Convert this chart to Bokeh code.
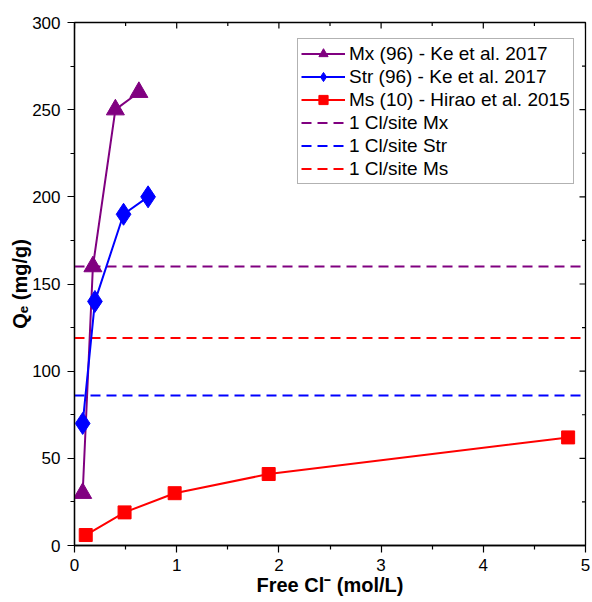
import math
from bokeh.plotting import figure
from bokeh.models import Range1d, FixedTicker, Legend
from bokeh.embed import file_html
from bokeh.resources import INLINE

# Data
mx_x = [0.08, 0.18, 0.40, 0.63]
mx_y = [30, 160, 250, 260]
str_x = [0.08, 0.20, 0.48, 0.72]
str_y = [70, 140, 190, 200]
ms_x = [0.11, 0.49, 0.98, 1.90, 4.83]
ms_y = [6, 19, 30, 41, 62]
site_mx = 160
site_str = 86
site_ms = 119

x_lim = [0, 5]
y_lim = [0, 300]
x_major = [0, 1, 2, 3, 4, 5]
x_minor = [0.5, 1.5, 2.5, 3.5, 4.5]
y_major = [0, 50, 100, 150, 200, 250, 300]
y_minor = [25, 75, 125, 175, 225, 275]

PURPLE = "#800080"
BLUE = "#0000ff"
RED = "#ff0000"
FONT = "Liberation Sans"

p = figure(width=592, height=602, output_backend="svg", toolbar_location=None,
           x_range=Range1d(*x_lim), y_range=Range1d(*y_lim),
           min_border_left=74, min_border_top=22, min_border_right=7, min_border_bottom=57)
p.xgrid.visible = False
p.ygrid.visible = False
p.outline_line_color = "black"
p.outline_line_width = 1.3
p.background_fill_color = "white"

# mirror ticks (top and right, pointing inward; outer half clipped by the frame)
p.scatter(x_major, [y_lim[1]] * len(x_major), marker="dash", angle=math.pi / 2, size=12,
          line_color="black", line_width=1.2)
p.scatter(x_minor, [y_lim[1]] * len(x_minor), marker="dash", angle=math.pi / 2, size=7,
          line_color="black", line_width=1.2)
p.scatter([x_lim[1]] * len(y_major), y_major, marker="dash", size=12,
          line_color="black", line_width=1.2)
p.scatter([x_lim[1]] * len(y_minor), y_minor, marker="dash", size=7,
          line_color="black", line_width=1.2)

# dashed reference lines
l4 = p.line(x_lim, [site_mx, site_mx], line_color=PURPLE, line_width=2, line_dash="10 6")
l5 = p.line(x_lim, [site_str, site_str], line_color=BLUE, line_width=2, line_dash="10 6")
l6 = p.line(x_lim, [site_ms, site_ms], line_color=RED, line_width=2, line_dash="10 6")

# series
r1l = p.line(mx_x, mx_y, line_color=PURPLE, line_width=2)
r1m = p.scatter(mx_x, mx_y, marker="triangle", size=18, fill_color=PURPLE, line_color=PURPLE)
r2l = p.line(str_x, str_y, line_color=BLUE, line_width=2)
r2m = p.scatter(str_x, str_y, marker="diamond", size=22, fill_color=BLUE, line_color=BLUE)
r3l = p.line(ms_x, ms_y, line_color=RED, line_width=2)
r3m = p.scatter(ms_x, ms_y, marker="square", size=13, fill_color=RED, line_color=RED)

legend = Legend(items=[
    ("Mx (96) - Ke et al. 2017", [r1l, r1m]),
    ("Str (96) - Ke et al. 2017", [r2l, r2m]),
    ("Ms (10) - Hirao et al. 2015", [r3l, r3m]),
    ("1 Cl/site Mx", [l4]),
    ("1 Cl/site Str", [l5]),
    ("1 Cl/site Ms", [l6]),
], location=(223, 361))
legend.label_text_font = FONT
legend.label_text_font_size = "19px"
legend.label_text_color = "black"
legend.label_height = 23
legend.label_standoff = 4
legend.glyph_width = 44
legend.glyph_height = 23
legend.spacing = 0
legend.padding = 3
legend.margin = 0
legend.border_line_color = "#666666"
legend.border_line_width = 1
legend.background_fill_alpha = 1
p.add_layout(legend)

# main axes
xa = p.xaxis[0]
ya = p.yaxis[0]
xa.ticker = FixedTicker(ticks=x_major, minor_ticks=x_minor)
ya.ticker = FixedTicker(ticks=y_major, minor_ticks=y_minor)
xa.axis_label = "Free Cl\u207b (mol/L)"
ya.axis_label = "Q\u2091 (mg/g)"
for a in (xa, ya):
    a.axis_label_text_font = FONT
    a.axis_label_text_font_style = "bold"
    a.axis_label_text_font_size = "20px"
    a.axis_label_text_color = "black"
    a.major_label_text_font = FONT
    a.major_label_text_font_size = "17px"
    a.major_label_text_color = "black"
    a.axis_line_color = "black"
    a.axis_line_width = 1.3
    a.major_tick_line_color = "black"
    a.minor_tick_line_color = "black"
    a.major_tick_line_width = 1.2
    a.minor_tick_line_width = 1.2
    a.major_tick_out = 7
    a.major_tick_in = 0
    a.minor_tick_out = 4
    a.minor_tick_in = 0
xa.major_label_standoff = 6
xa.axis_label_standoff = 0
ya.major_label_standoff = 7
ya.axis_label_standoff = -2

open("out.html", "w").write(file_html(p, INLINE))
